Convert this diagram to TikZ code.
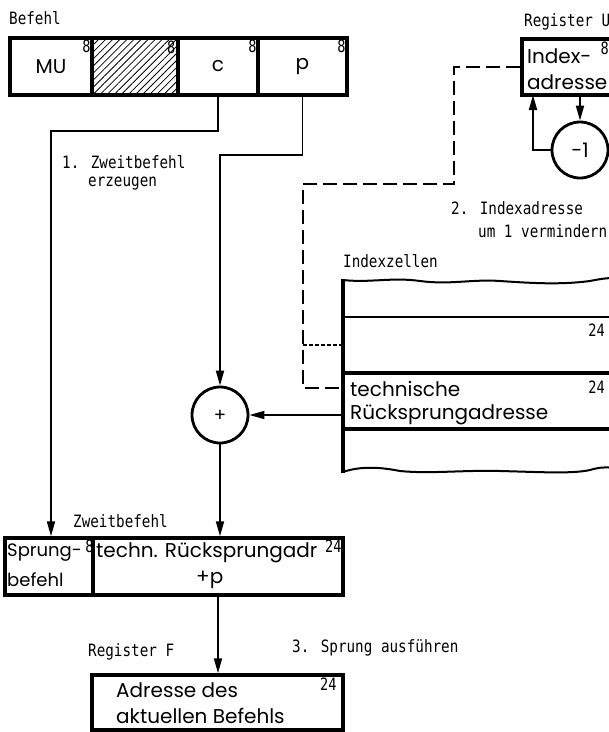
\documentclass[tikz,border=0pt]{standalone}
\usepackage{fontspec}
\usepackage{graphicx}
\setmainfont{Poppins}
\newfontfamily\labfont{DejaVu Sans Mono}
\usetikzlibrary{arrows.meta,patterns.meta,calc}
\newcommand\lab[1]{\scalebox{0.84}[1]{\labfont\fontsize{17}{20}\selectfont #1}}
\newcommand\bitw[1]{\scalebox{0.8}[1]{\labfont\fontsize{17}{19}\selectfont #1}}
\begin{document}
\begin{tikzpicture}[x=1pt,y=-1pt,
  cell/.style={draw,line width=3.4pt,inner sep=0pt,font=\fontsize{20}{24}\selectfont},
  boxtxt/.style={anchor=west,inner sep=0pt,font=\fontsize{20}{24}\selectfont},
  con/.style={line width=1.8pt},
  arr/.style={con,-{Triangle[width=8pt,length=15pt]}},
  lbl/.style={anchor=west,inner sep=0pt},
  bits/.style={anchor=north east,inner sep=0pt},
  dsh/.style={line width=1.8pt,dash pattern=on 14pt off 6pt},
  fdsh/.style={line width=1.5pt,dash pattern=on 4pt off 2pt},
  ring/.style={circle,draw,line width=2.8pt,minimum size=56pt,inner sep=0pt},
  rowbox/.style={inner sep=0pt,minimum width=266pt,minimum height=56pt},
  wave/.style={line width=2pt}
]
\useasboundingbox (0,0) rectangle (609,732);

% Befehl
\node[lbl] (tBefehl) at (9,18) {\lab{Befehl}};
\node[cell,minimum width=82pt,minimum height=57pt] (mu) at (51,66.5) {MU};
\node[cell,minimum width=86pt,minimum height=57pt,pattern={Lines[angle=45,distance=5pt,line width=0.8pt]}] (hat) at (135,66.5) {};
\node[cell,minimum width=80pt,minimum height=57pt] (c) at (218,66.5) {c};
\node[cell,minimum width=89pt,minimum height=57pt] (p) at (302.5,66.5) {p};
\node[bits] (mu8) at ([xshift=-3pt,yshift=-3pt]mu.north east) {\bitw{8}};
\node[bits] (hat8) at ([xshift=-3pt,yshift=-3pt]hat.north east) {\bitw{8}};
\node[bits] (c8) at ([xshift=-3pt,yshift=-3pt]c.north east) {\bitw{8}};
\node[bits] (p8) at ([xshift=-3pt,yshift=-3pt]p.north east) {\bitw{8}};

% Register U
\node[lbl] (tRegU) at (524,22) {\lab{Register U}};
\node[cell,minimum width=130pt,minimum height=56pt] (regu) at (587,67) {};
\node[boxtxt] (ui1) at (527,56) {Index-};
\node[boxtxt] (ui2) at (527,82) {adresse};
\node[bits] (u8) at (609,42) {\bitw{8}};
\node[ring] (m1) at (580,150) {\fontsize{20}{24}\selectfont -1};
\coordinate (ub) at (533,95);
\draw[arr] (regu.south -| m1) -- (m1.north);
\draw[arr] (m1.west) -| (ub);

% notes
\node[lbl] (n1a) at (62,162) {\lab{1. Zweitbefehl}};
\node[lbl] (n1b) at (88,184) {\lab{erzeugen}};
\node[lbl] (n2a) at (451,208) {\lab{2. Indexadresse}};
\node[lbl] (n2b) at (478,231) {\lab{um 1 vermindern}};
\node[lbl] (n3) at (292,648) {\lab{3. Sprung ausführen}};

% Indexzellen
\node[lbl] (tIdx) at (343,261) {\lab{Indexzellen}};
\node[rowbox] (row2) at (476,345) {};
\node[rowbox] (trow) at (476,401) {};
\draw[wave] (343,280) .. controls (370,283) and (392,277) .. (420,281) .. controls (450,285) and (472,279) .. (500,281) .. controls (530,283) and (560,285) .. (590,281) .. controls (600,279) and (606,278) .. (614,278);
\draw[wave] (343,472) .. controls (360,466) and (380,467) .. (400,471) .. controls (430,474) and (462,470) .. (500,471) .. controls (540,472) and (572,474) .. (590,470) .. controls (600,467) and (606,467) .. (614,468);
\draw[line width=3.4pt] (343,279) -- (343,473);
\draw[line width=2pt] (343,317) -- (614,317);
\draw[line width=3.4pt] (343,373) -- (614,373);
\draw[line width=3.4pt] (343,429) -- (614,429);
\node[bits] (r24a) at (605,324) {\bitw{24}};
\node[bits] (r24b) at (605,381) {\bitw{24}};
\node[boxtxt] (tt1) at (350,389) {technische};
\node[boxtxt] (tt2) at (350,415) {Rücksprungadresse};

% dashed link
\coordinate (dA) at (454,184);
\coordinate (dB) at (303,388);
\coordinate (dC) at (303,345);
\draw[dsh] (regu.west) -| (dA) -| (dB) -- ([yshift=13pt]trow.west);
\draw[fdsh] (dC) -- (row2.west);

% plus
\node[ring] (plus) at (220,415) {\fontsize{18}{18}\selectfont\labfont +};
\draw[arr] (trow.west |- plus) -- (plus.east);

% Zweitbefehl
\node[lbl] (tZw) at (73,521) {\lab{Zweitbefehl}};
\node[cell,minimum width=88pt,minimum height=57pt] (sprung) at (49,566.5) {};
\node[cell,minimum width=250pt,minimum height=57pt] (rueck) at (218,566.5) {};
\node[boxtxt,font=\fontsize{18}{22}\selectfont] (s1) at (7,553) {Sprung-};
\node[boxtxt,font=\fontsize{18}{22}\selectfont] (s2) at (7,580) {befehl};
\node[bits] (s8) at ([xshift=-1pt,yshift=-3pt]sprung.north east) {\bitw{8}};
\node[boxtxt] (r1) at (96,553) {techn. Rücksprungadr};
\node[boxtxt] (r2) at (196,580) {+p};
\node[bits] (r24) at ([xshift=-3pt,yshift=-3pt]rueck.north east) {\bitw{24}};

% Register F
\node[lbl] (tRegF) at (88,652) {\lab{Register F}};
\node[cell,minimum width=251pt,minimum height=55pt] (regf) at (217.5,702.5) {};
\node[boxtxt] (f1) at (116,690) {Adresse des};
\node[boxtxt] (f2) at (116,716) {aktuellen Befehls};
\node[bits] (f24) at ([xshift=-8pt,yshift=-4pt]regf.north east) {\bitw{24}};

% connectors
\coordinate (k1) at (51,131);
\coordinate (k2) at (220,155);
\draw[arr] (c.south) |- (k1) -- (k1 |- sprung.north);
\draw[arr] (p.south) |- (k2) -- (k2 |- plus.north);
\draw[arr] (plus.south) -- (plus.south |- rueck.north);
\draw[arr] (rueck.south) -- (rueck.south |- regf.north);
\end{tikzpicture}
\end{document}
